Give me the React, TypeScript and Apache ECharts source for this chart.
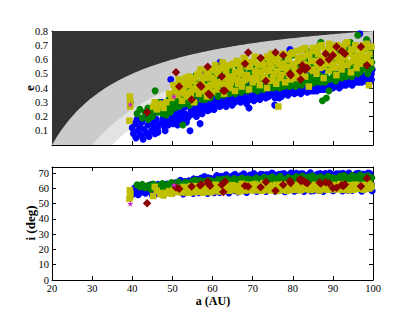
import React, { useEffect, useRef } from "react";
import * as echarts from "echarts";

// Each object: [a (AU), e, i (deg)]
const blueData: number[][] = [
  [40.0,0.12,58.0],[40.3,0.08,56.4],[40.6,0.15,60.2],[40.9,0.05,57.3],[41.2,0.18,61.5],[41.5,0.10,55.8],[41.8,0.13,59.1],[42.1,0.07,62.0],[42.4,0.16,57.6],[42.7,0.04,58.8],
  [43.0,0.11,60.7],[43.3,0.19,56.9],[43.6,0.08,61.2],[43.9,0.14,58.3],[44.2,0.06,59.6],[44.5,0.17,62.3],[44.8,0.10,57.1],[45.1,0.21,60.0],[45.4,0.13,58.6],[45.7,0.08,61.8],
  [46.0,0.18,56.5],[46.3,0.11,59.4],[46.4,0.09,62.6],[46.8,0.24,57.8],[47.1,0.15,60.5],[47.4,0.30,58.1],[47.7,0.19,61.3],[48.0,0.13,56.9],[48.2,0.10,59.9],[48.6,0.22,62.8],
  [48.9,0.17,57.5],[49.3,0.26,60.9],[49.6,0.46,58.7],[49.9,0.20,63.2],[50.2,0.15,57.2],
  [50.5,0.24,60.4],[50.8,0.18,63.7],[51.1,0.28,58.0],[51.4,0.21,61.6],[51.7,0.16,64.1],[51.9,0.20,59.2],[52.2,0.25,62.7],[52.5,0.18,57.4],[52.8,0.31,60.8],[53.1,0.22,64.5],
  [53.4,0.27,58.6],[53.8,0.19,62.0],[54.1,0.33,65.0],[54.4,0.10,59.5],[54.4,0.46,61.1],[54.7,0.24,57.9],[55.0,0.29,63.4],
  [55.3,0.22,66.2],[55.6,0.27,58.4],[55.9,0.32,61.9],[56.2,0.24,64.8],[56.5,0.35,59.0],[56.9,0.15,62.5],[57.2,0.28,66.7],[57.5,0.25,57.7],[57.8,0.31,63.8],[58.1,0.50,60.3],
  [58.4,0.26,65.5],[58.7,0.34,58.9],[59.0,0.29,67.0],[59.4,0.25,61.4],[59.7,0.37,64.0],
  [60.0,0.30,58.3],[60.3,0.27,66.0],[60.6,0.35,62.2],[60.9,0.29,67.4],[61.2,0.40,59.6],[61.6,0.31,65.1],[61.9,0.58,63.0],[62.2,0.28,68.0],[62.5,0.36,57.9],[62.9,0.32,66.3],
  [63.2,0.42,61.0],[63.6,0.30,67.7],[63.9,0.38,59.2],[64.3,0.32,65.8],[64.7,0.35,62.9],
  [65.0,0.31,68.3],[65.4,0.39,58.6],[65.7,0.34,66.9],[66.1,0.44,61.7],[66.5,0.32,67.5],[66.8,0.37,59.8],[67.2,0.33,68.6],[67.6,0.41,63.6],[67.9,0.35,66.4],[68.3,0.31,58.4],
  [68.6,0.39,67.9],[69.0,0.34,62.1],[69.1,0.26,65.2],[69.4,0.43,68.8],[69.8,0.36,60.0],
  [70.1,0.34,67.1],[70.5,0.40,58.9],[70.9,0.36,68.4],[71.2,0.47,62.8],[71.6,0.35,66.6],[72.0,0.38,69.3],[72.3,0.35,59.5],[72.7,0.42,67.8],[73.1,0.37,64.3],[73.5,0.36,69.0],
  [73.8,0.45,60.6],[74.2,0.37,68.1],[74.6,0.40,65.7],
  [75.0,0.36,69.7],[75.4,0.43,58.7],[75.5,0.28,66.4],[75.8,0.38,68.6],[76.2,0.48,63.1],[76.6,0.33,69.2],[77.0,0.40,60.1],[77.4,0.37,67.6],[77.8,0.44,69.8],[78.2,0.38,58.2],
  [78.5,0.41,68.0],[78.9,0.39,65.1],[79.3,0.67,69.4],[79.7,0.42,60.4],
  [80.1,0.38,68.7],[80.5,0.45,62.9],[80.9,0.40,69.9],[81.3,0.39,58.9],[81.7,0.47,68.2],[82.1,0.41,66.0],[82.5,0.39,69.6],[82.9,0.44,59.4],[83.3,0.40,67.3],[83.7,0.50,64.6],
  [84.1,0.40,69.0],[84.5,0.43,58.3],
  [84.9,0.41,68.4],[85.3,0.48,61.5],[85.7,0.41,67.0],[86.1,0.45,69.3],[86.5,0.40,58.6],[86.9,0.43,68.9],[87.3,0.52,63.6],[87.7,0.41,67.5],[88.1,0.46,69.7],[88.5,0.42,59.8],
  [88.9,0.44,68.0],[89.3,0.55,65.4],[89.7,0.42,69.1],
  [90.1,0.47,58.4],[90.5,0.43,67.8],[90.9,0.45,69.5],[91.3,0.50,62.0],[91.7,0.43,68.3],[92.1,0.47,59.1],[92.5,0.44,69.9],[92.9,0.53,66.2],[93.3,0.45,68.7],[93.7,0.49,58.8],
  [94.1,0.46,69.2],[94.2,0.70,66.8],[94.6,0.47,67.3],
  [95.0,0.45,59.6],[95.4,0.51,68.8],[95.8,0.46,69.6],[96.2,0.56,63.0],[96.7,0.78,68.1],[97.1,0.47,59.0],[97.5,0.49,69.4],[97.9,0.58,67.0],[98.3,0.48,68.5],[98.7,0.72,60.2],
  [99.2,0.44,69.8],[99.6,0.50,62.6],[99.8,0.53,58.5],
  [45.0,0.16,55.5],[46.5,0.14,57.2],[47.9,0.17,55.9],[49.0,0.14,60.3],[50.0,0.18,62.0],[51.3,0.14,59.0],[52.0,0.23,65.3],[52.7,0.21,56.4],[53.5,0.16,60.8],[54.5,0.21,64.2],
  [55.2,0.25,56.6],[56.0,0.20,66.0],[56.7,0.28,57.1],[57.4,0.22,63.2],[58.0,0.27,67.8],[58.8,0.24,56.7],[59.6,0.28,66.5],[60.4,0.25,57.2],[61.1,0.32,68.4],[61.8,0.27,57.4],
  [62.6,0.30,67.0],[63.4,0.27,68.9],[64.1,0.30,57.0],[64.9,0.28,67.1],[65.6,0.30,69.2],[66.3,0.34,57.6],[67.0,0.30,66.8],[67.8,0.33,69.6],[68.5,0.29,57.3],[69.3,0.32,67.3],
  [70.3,0.31,69.8],[71.0,0.33,57.9],[71.8,0.32,67.7],[72.5,0.37,69.1],[73.3,0.33,58.0],[74.0,0.34,68.5],[74.8,0.36,70.0],[75.6,0.33,58.1],[76.4,0.36,68.0],[77.2,0.34,69.4],
  [78.0,0.36,57.8],[78.8,0.35,68.4],[79.6,0.37,70.1],[80.4,0.36,58.2],[81.2,0.37,68.0],[82.0,0.36,69.5],[82.8,0.38,57.9],[83.6,0.37,68.6],[84.4,0.38,70.2],[85.2,0.38,58.4],
  [86.0,0.38,68.3],[86.8,0.39,69.8],[87.6,0.39,58.0],[88.4,0.39,68.8],[89.2,0.40,70.0],[90.0,0.40,58.7],[90.8,0.41,68.2],[91.6,0.40,69.6],[92.4,0.42,58.3],[93.2,0.42,68.9],
  [94.0,0.43,70.1],[94.8,0.42,58.6],[95.6,0.44,68.4],[96.4,0.44,69.9],[97.2,0.44,58.2],[98.0,0.45,68.7],[98.8,0.46,70.0],[99.6,0.46,58.9],
];

const greenData: number[][] = [
  [39.5,0.30,57.5],[41.2,0.22,62.3],[41.9,0.25,61.0],[42.5,0.19,62.6],[43.2,0.23,60.4],[43.9,0.26,61.9],[44.6,0.21,59.5],[45.2,0.25,62.8],[45.7,0.38,60.7],[46.3,0.23,58.9],
  [46.9,0.27,61.4],[47.5,0.22,63.2],[48.1,0.29,59.6],[48.7,0.25,62.1],[49.2,0.32,60.0],[49.8,0.27,63.9],[50.4,0.35,58.7],[50.9,0.29,61.8],[51.5,0.37,64.2],[52.0,0.30,59.9],[52.6,0.14,62.7],
  [53.0,0.34,60.6],[53.5,0.40,63.5],[54.0,0.31,58.8],[54.5,0.38,62.2],[55.0,0.33,64.6],[55.5,0.43,60.1],[55.9,0.49,62.9],[56.4,0.35,59.3],[56.9,0.41,65.0],[57.4,0.32,61.5],[57.9,0.46,63.6],
  [58.4,0.36,60.2],[58.9,0.42,65.3],[59.4,0.33,62.4],[59.9,0.48,59.6],[60.4,0.37,64.1],[60.9,0.44,61.2],[61.4,0.34,65.8],[61.9,0.51,60.5],[62.4,0.39,63.0],[62.9,0.46,66.1],[63.4,0.36,61.7],
  [63.9,0.43,64.9],[64.4,0.52,59.8],[64.9,0.38,62.6],[65.4,0.47,66.4],[65.9,0.40,61.0],[66.4,0.55,64.0],[66.9,0.38,60.3],[67.4,0.49,66.7],[67.9,0.42,62.9],[68.4,0.58,65.2],[68.9,0.40,60.8],[69.4,0.51,66.0],
  [69.9,0.44,63.3],[70.4,0.39,59.9],[70.9,0.55,66.9],[71.4,0.42,61.6],[71.9,0.48,65.4],[72.4,0.40,62.5],[72.9,0.60,67.2],[73.4,0.44,60.7],[73.9,0.52,65.0],[74.4,0.41,63.1],[74.9,0.57,67.6],[75.4,0.46,61.4],
  [75.9,0.41,66.3],[76.4,0.54,62.8],[76.9,0.43,67.9],[77.4,0.61,60.5],[77.9,0.47,65.7],[78.4,0.42,62.0],[78.9,0.57,67.3],[79.4,0.45,63.8],[79.9,0.63,66.5],[80.4,0.42,61.2],[80.9,0.51,67.8],[81.4,0.44,64.4],
  [81.9,0.59,62.6],[82.4,0.43,68.1],[82.9,0.49,65.1],[83.4,0.66,61.9],[83.9,0.44,67.4],[84.4,0.55,63.5],[84.9,0.45,68.3],[85.4,0.62,62.2],[85.9,0.47,66.8],[86.4,0.69,64.0],[86.9,0.44,61.1],[87.0,0.72,67.6],
  [87.4,0.31,63.7],[88.0,0.44,66.2],[88.4,0.33,62.5],[89.0,0.38,64.8],
  [88.8,0.53,68.0],[89.3,0.65,61.7],[89.8,0.47,67.1],[90.3,0.58,63.4],[90.8,0.70,66.6],[91.3,0.48,60.9],[91.8,0.61,67.9],[92.3,0.52,64.2],[92.8,0.68,68.4],[93.3,0.48,62.7],[93.8,0.57,66.9],
  [94.3,0.72,64.6],[94.8,0.50,68.6],[95.3,0.63,62.3],[95.8,0.54,67.4],[96.2,0.77,65.8],[96.8,0.51,68.9],[97.3,0.66,63.1],[97.8,0.55,67.7],[98.4,0.74,64.9],[98.8,0.52,68.2],[99.3,0.62,62.8],[99.7,0.58,67.0],
  [44.0,0.18,60.8],[45.0,0.20,61.6],[46.6,0.30,62.0],[47.2,0.25,59.3],[48.4,0.21,61.0],[49.0,0.28,62.6],[49.5,0.23,60.3],[50.1,0.31,62.9],[50.6,0.26,60.0],[51.2,0.33,63.0],
  [51.8,0.27,61.2],[52.3,0.36,62.4],[52.9,0.29,60.4],[53.3,0.32,64.0],[53.8,0.37,61.5],[54.3,0.28,63.3],[54.8,0.41,60.7],[55.3,0.36,62.5],[55.7,0.30,65.4],[56.2,0.44,61.4],
  [56.7,0.38,63.9],[57.2,0.35,60.8],[57.7,0.40,64.6],[58.2,0.32,62.0],[58.7,0.45,63.4],[59.2,0.39,60.9],[59.7,0.35,65.0],[60.2,0.43,62.7],[60.7,0.39,60.0],[61.2,0.47,64.4],
  [61.7,0.37,62.3],[62.2,0.43,65.6],[62.7,0.35,60.2],[63.2,0.49,63.7],[63.7,0.40,66.5],[64.2,0.36,61.4],[64.7,0.46,64.2],[65.2,0.42,61.9],[65.7,0.36,65.0],[66.2,0.50,62.7],
  [66.7,0.44,66.0],[67.2,0.37,61.6],[67.7,0.53,64.7],[68.2,0.45,62.2],[68.7,0.38,66.3],[69.2,0.47,61.5],[69.7,0.41,64.6],[70.2,0.50,62.0],[70.7,0.45,65.1],[71.2,0.38,62.9],
  [71.7,0.52,60.4],[72.2,0.45,66.2],[72.7,0.39,61.7],[73.2,0.56,64.0],[73.7,0.47,62.0],[74.2,0.40,66.7],[74.7,0.50,63.0],[75.2,0.40,64.9],[75.7,0.52,60.3],[76.2,0.45,65.3],
  [76.7,0.40,62.4],[77.2,0.50,66.2],[77.7,0.41,63.4],[78.2,0.53,61.1],[78.7,0.46,66.0],[79.2,0.41,62.7],[79.7,0.52,64.7],[80.2,0.47,62.0],[80.7,0.41,65.6],[81.2,0.55,63.1],
  [81.7,0.47,66.8],[82.2,0.42,62.4],[82.7,0.52,65.0],[83.2,0.45,63.0],[83.7,0.59,66.0],[84.2,0.48,61.8],[84.7,0.43,64.7],[85.2,0.54,66.7],[85.7,0.44,62.6],[86.2,0.57,65.2],
  [86.7,0.49,63.5],[87.2,0.45,66.1],[87.7,0.55,62.0],[88.2,0.48,64.6],[88.7,0.61,66.9],[89.2,0.46,63.2],[89.7,0.57,65.9],[90.2,0.50,62.7],[90.7,0.45,66.4],[91.2,0.64,63.9],
  [91.7,0.53,61.8],[92.2,0.47,65.7],[92.7,0.58,63.0],[93.2,0.51,67.0],[93.7,0.66,62.4],[94.2,0.55,65.3],[94.7,0.48,63.7],[95.2,0.58,66.4],[95.7,0.69,61.9],[96.2,0.50,64.5],
  [96.7,0.60,62.7],[97.2,0.53,66.2],[97.7,0.70,64.0],[98.2,0.57,62.1],[98.7,0.50,65.7],[99.2,0.66,63.4],[99.6,0.54,61.5],
];

const yellowData: number[][] = [
  [39.4,0.34,58.8],[39.5,0.31,56.8],[39.5,0.27,54.6],[39.3,0.17,53.2],
  [45.2,0.27,55.0],[45.6,0.30,61.0],[46.1,0.25,58.5],[47.0,0.28,56.2],[47.3,0.29,57.0],[47.8,0.26,55.4],[48.5,0.30,57.0],[49.2,0.36,58.2],[49.8,0.33,56.4],[50.3,0.42,59.0],[50.7,0.38,57.6],
  [51.3,0.35,58.8],[51.9,0.44,60.2],[52.4,0.31,57.3],[52.8,0.39,61.0],[53.3,0.47,58.4],[53.7,0.34,59.6],[54.1,0.42,57.1],[54.6,0.37,60.8],[55.0,0.45,58.0],[55.4,0.30,59.1],
  [55.8,0.40,61.5],[56.2,0.49,57.8],[56.6,0.36,59.9],[57.0,0.53,60.6],[57.3,0.44,58.5],[57.8,0.38,62.0],[58.2,0.47,59.4],[58.6,0.34,57.6],[59.1,0.51,60.9],[59.5,0.42,58.2],[59.9,0.37,61.3],
  [60.3,0.46,59.0],[60.7,0.56,62.4],[61.2,0.39,60.1],[61.6,0.50,58.6],[62.0,0.43,61.8],[62.5,0.58,59.7],[62.9,0.36,60.5],[63.4,0.52,62.8],[63.8,0.45,58.9],[64.3,0.40,61.2],[64.7,0.56,60.0],
  [65.1,0.48,62.1],[65.6,0.38,59.3],[66.0,0.59,60.8],[66.4,0.43,58.7],[66.9,0.53,61.6],[67.3,0.41,63.0],[67.8,0.61,59.8],[68.2,0.46,60.9],[68.7,0.55,62.5],[69.1,0.39,58.8],[69.6,0.58,61.1],
  [70.0,0.44,60.3],[70.5,0.62,62.9],[70.9,0.49,59.5],[71.4,0.56,61.7],[71.8,0.42,58.9],[72.3,0.60,60.6],[72.7,0.47,63.4],[73.2,0.53,59.2],[73.6,0.40,61.9],[74.1,0.58,60.2],[74.5,0.45,58.6],[74.7,0.64,61.5],
  [75.0,0.61,61.3],[75.4,0.50,59.7],[75.9,0.43,62.4],[76.3,0.57,60.5],[76.4,0.27,58.3],[76.8,0.47,61.0],[77.2,0.54,59.0],[77.7,0.64,62.7],[78.1,0.44,60.1],[78.6,0.51,58.4],[79.0,0.60,61.5],[79.5,0.46,59.8],
  [80.0,0.65,60.7],[80.4,0.55,62.2],[80.9,0.47,59.3],[81.3,0.61,61.1],[81.8,0.50,58.7],[82.2,0.67,60.4],[82.7,0.57,62.9],[83.1,0.48,59.6],[83.6,0.63,61.8],[84.0,0.41,60.0],[84.5,0.53,58.9],
  [85.0,0.68,61.4],[85.4,0.59,59.5],[85.9,0.50,62.0],[86.3,0.64,60.3],[86.8,0.54,58.6],[87.2,0.70,61.7],[87.7,0.47,60.8],[88.1,0.60,62.6],[88.6,0.66,59.1],[89.0,0.52,61.0],[89.5,0.69,60.0],
  [90.0,0.56,62.3],[90.4,0.63,59.4],[90.9,0.49,61.5],[91.3,0.59,60.2],[91.8,0.68,62.8],[92.2,0.53,59.0],[92.7,0.61,61.2],[93.1,0.71,60.5],[93.6,0.56,62.1],[94.0,0.64,58.8],[94.5,0.51,61.4],
  [95.0,0.67,60.1],[95.4,0.59,62.5],[95.9,0.54,59.7],[96.3,0.63,61.6],[96.8,0.57,60.4],[97.2,0.65,62.0],[97.7,0.60,59.2],[98.1,0.68,61.0],[98.6,0.62,60.3],[99.0,0.42,63.0],[99.4,0.58,61.8],
  [51.0,0.40,59.4],[51.6,0.46,57.7],[52.1,0.37,59.9],[52.6,0.43,58.1],[53.1,0.36,60.4],[53.6,0.44,57.5],[54.1,0.48,59.2],[54.6,0.33,61.5],[55.1,0.39,57.4],[55.6,0.47,60.0],
  [56.1,0.42,58.3],[56.6,0.50,61.2],[57.1,0.39,59.1],[57.6,0.48,57.2],[58.1,0.41,61.0],[58.6,0.52,58.8],[59.1,0.39,60.2],[59.6,0.47,57.5],[60.1,0.53,60.8],[60.6,0.42,58.1],
  [61.1,0.51,61.4],[61.6,0.44,59.8],[62.1,0.54,57.9],[62.6,0.47,60.9],[63.1,0.42,59.0],[63.6,0.56,61.6],[64.1,0.48,58.4],[64.6,0.44,60.5],[65.1,0.57,58.9],[65.6,0.51,61.3],
  [66.1,0.46,59.7],[66.6,0.57,57.9],[67.1,0.50,60.6],[67.6,0.45,62.4],[68.1,0.60,58.6],[68.6,0.49,59.9],[69.1,0.55,62.0],[69.6,0.47,59.1],[70.1,0.58,61.3],[70.6,0.52,58.6],
  [71.1,0.46,60.5],[71.6,0.61,59.2],[72.1,0.51,62.2],[72.6,0.56,58.5],[73.1,0.48,60.8],[73.6,0.62,59.3],[74.1,0.52,62.0],[74.6,0.55,59.5],[75.1,0.47,60.2],[75.6,0.59,58.8],
  [76.1,0.52,61.7],[76.6,0.62,59.6],[77.1,0.49,62.3],[77.6,0.57,60.0],[78.1,0.63,58.9],[78.6,0.55,61.4],[79.1,0.49,59.2],[79.6,0.64,60.9],[80.1,0.57,59.0],[80.6,0.51,61.6],
  [81.1,0.66,59.8],[81.6,0.59,62.3],[82.1,0.52,59.1],[82.6,0.62,61.0],[83.1,0.68,59.7],[83.6,0.56,62.0],[84.1,0.64,59.3],[84.6,0.59,61.5],[85.1,0.52,60.1],[85.6,0.66,62.4],
  [86.1,0.56,59.4],[86.6,0.69,61.0],[87.1,0.61,59.7],[87.6,0.55,62.2],[88.1,0.67,60.4],[88.6,0.57,61.6],[89.1,0.71,59.3],[89.6,0.60,62.0],[90.1,0.66,60.7],[90.6,0.54,59.4],
  [91.1,0.70,61.8],[91.6,0.62,59.8],[92.1,0.57,62.3],[92.6,0.69,60.0],[93.1,0.62,61.5],[93.6,0.72,59.5],[94.1,0.58,62.0],[94.6,0.67,60.6],[95.1,0.62,59.1],[95.6,0.70,61.3],
  [96.1,0.58,59.9],[96.6,0.68,62.2],[97.1,0.62,60.8],[97.6,0.70,59.6],[98.1,0.60,62.4],[98.6,0.71,61.4],[99.1,0.64,59.9],[99.6,0.69,61.0],
];

const redData: number[][] = [
  [43.7,0.23,50.3],[50.9,0.51,60.5],[51.7,0.41,59.8],[54.8,0.32,61.2],[56.9,0.42,62.0],[57.2,0.41,62.6],[58.8,0.55,64.4],[59.0,0.36,63.2],[59.4,0.35,61.8],
  [62.3,0.48,62.4],[62.7,0.38,57.6],[63.1,0.38,64.3],[68.1,0.57,61.7],[68.9,0.65,61.2],[72.0,0.61,60.7],[73.3,0.45,64.2],[75.7,0.65,58.5],[77.6,0.63,62.4],
  [79.3,0.50,64.8],[79.5,0.49,63.6],[81.8,0.52,66.0],[82.0,0.46,64.8],[82.4,0.56,65.2],[83.0,0.53,64.4],[83.6,0.54,63.3],[86.7,0.58,63.8],[87.0,0.58,63.2],
  [88.2,0.64,64.0],[89.0,0.60,63.4],[90.0,0.63,60.2],[90.9,0.69,60.4],[92.2,0.66,62.2],[92.6,0.65,61.6],[93.0,0.64,62.6],[97.0,0.69,61.4],[98.5,0.56,66.7],
];

const magentaData: number[][] = [
  [39.5,0.285,50.0],[50.4,0.34,62.3],
];

// perihelion distances (AU) bounding the shaded zones, e = 1 - q/a
const qLevels = [35, 30, 20];
const shadeColors = ["#e4e4e4", "#cbcbcb", "#333333"];

const FONT = "Liberation Serif";

function axisCommon(extra: any) {
  return {
    axisLine: { onZero: false, lineStyle: { color: "#000", width: 1 } },
    axisTick: { inside: true, length: 4, lineStyle: { color: "#000" } },
    splitLine: { show: false },
    ...extra,
  };
}

export default function App() {
  const ref = useRef<HTMLDivElement>(null);
  useEffect(() => {
    if (!ref.current) return;
    const chart = echarts.init(ref.current, null, { renderer: "svg" });
    const top = (d: number[][]) => d.map((p) => [p[0], p[1]]);
    const bot = (d: number[][]) => d.map((p) => [p[0], p[2]]);
    const sets = [
      { data: blueData, color: "#0000ff", symbol: "circle", size: 7 },
      { data: greenData, color: "#008000", symbol: "circle", size: 7 },
      { data: yellowData, color: "#bfbf00", symbol: "rect", size: 6.5 },
      { data: redData, color: "#8b0000", symbol: "diamond", size: 8.5 },
      { data: magentaData, color: "#cc22cc", symbol: "path://M0,-10 L2.35,-3.24 L9.51,-3.09 L3.8,1.24 L5.88,8.09 L0,4 L-5.88,8.09 L-3.8,1.24 L-9.51,-3.09 L-2.35,-3.24 Z", size: 6 },
    ];
    const scatter: any[] = [];
    sets.forEach((s) => {
      scatter.push({
        type: "scatter", xAxisIndex: 0, yAxisIndex: 0, data: top(s.data),
        symbol: s.symbol, symbolSize: s.size, itemStyle: { color: s.color, opacity: 1 }, silent: true,
      });
    });
    sets.forEach((s) => {
      scatter.push({
        type: "scatter", xAxisIndex: 2, yAxisIndex: 2, data: bot(s.data),
        symbol: s.symbol, symbolSize: s.size, itemStyle: { color: s.color, opacity: 1 }, silent: true,
      });
    });
    const labelStyle = { color: "#000", fontFamily: FONT, fontSize: 10.5 };
    chart.setOption({
      animation: false,
      backgroundColor: "#fff",
      grid: [
        { left: 52, top: 31, width: 321, height: 114 },
        { left: 52, top: 167, width: 321, height: 113 },
      ],
      xAxis: [
        axisCommon({ type: "value", gridIndex: 0, position: "bottom", min: 20, max: 100, interval: 10, axisLabel: { show: false } }),
        axisCommon({ type: "value", gridIndex: 0, position: "top", min: 20, max: 100, interval: 10, axisLabel: { show: false } }),
        axisCommon({ type: "value", gridIndex: 1, position: "bottom", min: 20, max: 100, interval: 10, axisLabel: { ...labelStyle, margin: 3 } }),
        axisCommon({ type: "value", gridIndex: 1, position: "top", min: 20, max: 100, interval: 10, axisLabel: { show: false } }),
      ],
      yAxis: [
        axisCommon({ type: "value", gridIndex: 0, position: "left", min: 0, max: 0.8, interval: 0.1,
          axisLabel: { ...labelStyle, margin: 4, formatter: (v: number) => (v < 0.05 ? "" : v.toFixed(1)) } }),
        axisCommon({ type: "value", gridIndex: 0, position: "right", min: 0, max: 0.8, interval: 0.1, axisLabel: { show: false } }),
        axisCommon({ type: "value", gridIndex: 1, position: "left", min: 0, max: 74, interval: 10,
          axisLabel: { ...labelStyle, margin: 3, formatter: (v: number) => (Math.abs(v % 10) < 1e-6 ? String(v) : "") } }),
        axisCommon({ type: "value", gridIndex: 1, position: "right", min: 0, max: 74, interval: 10, axisLabel: { show: false } }),
      ],
      series: [
        {
          type: "custom", xAxisIndex: 0, yAxisIndex: 0, silent: true, clip: true,
          data: qLevels.map((q) => [q, 0]),
          renderItem: (params: any, api: any) => {
            const q = api.value(0) as number;
            const pts: number[][] = [api.coord([20, 0.8])];
            for (let a = 20; a <= 100.0001; a += 0.5) {
              let e = 1 - q / a;
              if (e < 0) e = 0;
              if (e > 0.8) e = 0.8;
              pts.push(api.coord([a, e]));
            }
            pts.push(api.coord([100, 0.8]));
            return { type: "polygon", shape: { points: pts }, style: { fill: shadeColors[params.dataIndex] } };
          },
        },
        ...scatter,
      ],
      graphic: [
        { type: "text", x: 29, y: 88, rotation: Math.PI / 2,
          style: { text: "e", fontFamily: FONT, fontWeight: "bold", fontSize: 13, fill: "#000", align: "center", verticalAlign: "middle" } },
        { type: "text", x: 30, y: 223, rotation: Math.PI / 2,
          style: { text: "i (deg)", fontFamily: FONT, fontWeight: "bold", fontSize: 13, fill: "#000", align: "center", verticalAlign: "middle" } },
        { type: "text", x: 213, y: 301,
          style: { text: "a (AU)", fontFamily: FONT, fontWeight: "bold", fontSize: 12, fill: "#000", align: "center", verticalAlign: "middle" } },
      ],
    });
    return () => chart.dispose();
  }, []);
  return <div ref={ref} style={{ position: "absolute", left: 0, top: 0, width: 415, height: 312 }} />;
}
